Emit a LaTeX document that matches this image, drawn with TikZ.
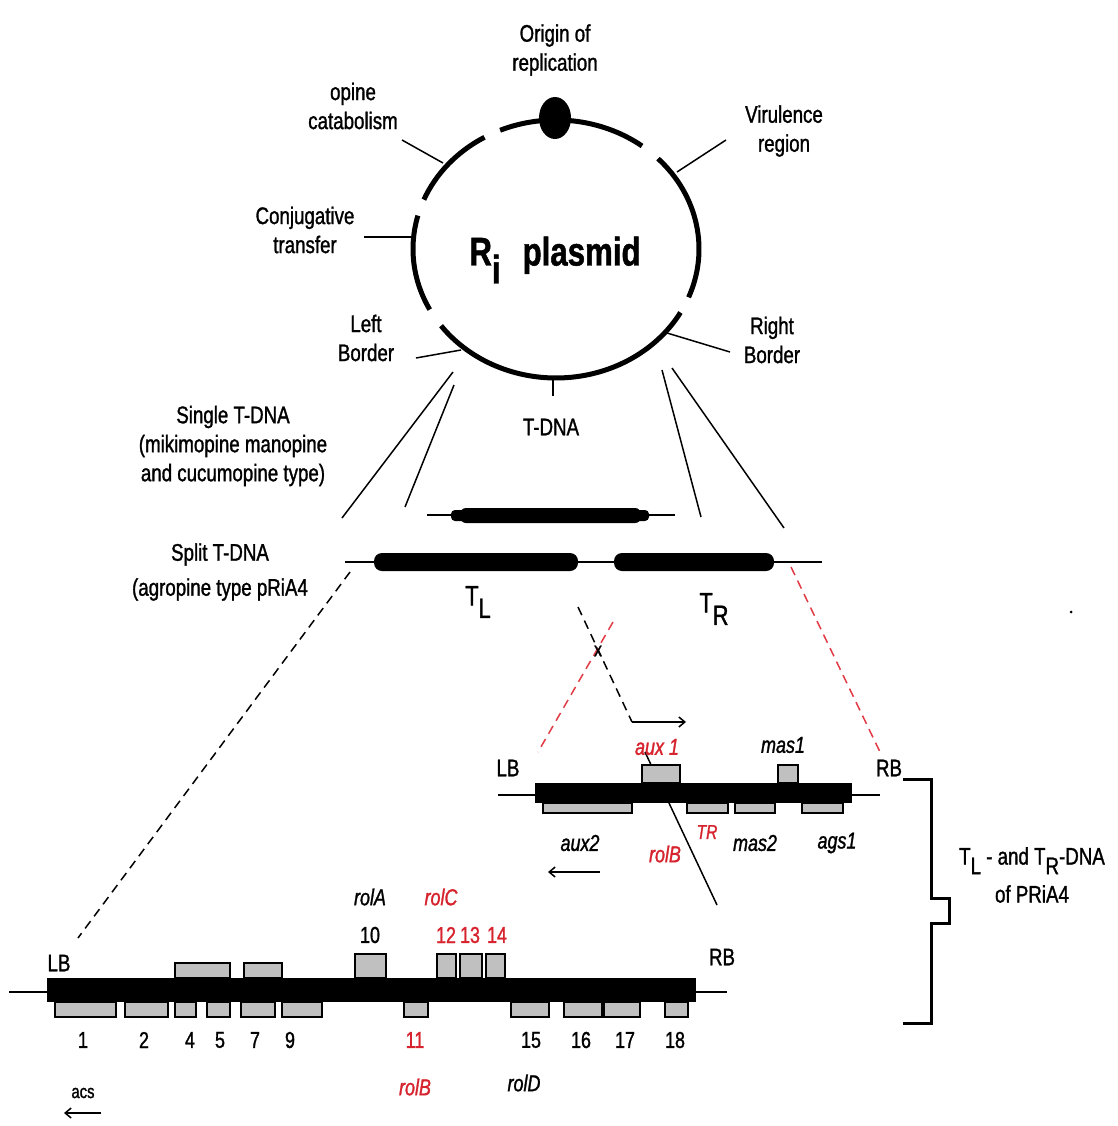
\documentclass[tikz,border=0pt]{standalone}
\usepackage{fontspec}
\setmainfont{Liberation Sans}[FakeStretch=0.78, FakeBold=1.2]
\usetikzlibrary{arrows.meta}
\definecolor{genred}{RGB}{215,35,45}
\definecolor{boxgray}{RGB}{192,192,192}
\definecolor{dashred}{RGB}{225,60,70}
\begin{document}
\begin{tikzpicture}[x=1pt,y=-1pt,
  txt/.style={font=\fontsize{24}{29}\selectfont, align=center, inner sep=0pt},
  gene/.style={font=\fontsize{23}{26}\selectfont\itshape, inner sep=0pt},
  num/.style={font=\fontsize{23}{26}\selectfont, inner sep=0pt},
  redtxt/.style={text=genred},
  ring/.style={line width=5pt},
  conn/.style={line width=1.5pt},
  dna/.style={line width=2pt},
  gbox/.style={draw=black, fill=boxgray, line width=1.5pt},
  bdash/.style={line width=1.5pt, dash pattern=on 9pt off 6pt},
  rdash/.style={line width=1.5pt, dash pattern=on 9pt off 6pt, draw=dashred},
  arr/.style={line width=1.5pt, -{Straight Barb[length=6pt,width=10pt]}},
]
\useasboundingbox[fill=white] (0,0) rectangle (1117,1126);

% ---------- plasmid ----------
\coordinate (pc) at (556,249);
\foreach \a/\b in {-53/-113, 22/-44.5, 29.5/143.5, -165/-208, -120/-157.5}
  \draw[ring] (pc) ++(\a:143 and 129) arc[start angle=\a, end angle=\b, x radius=143, y radius=129];
\fill (555,118) ellipse [x radius=16, y radius=21];

\node[txt] (ori) at (555,50) {Origin of\\replication};
\node[txt] (opi) at (353,106) {opine\\catabolism};
\node[txt] (vir) at (784,131) {Virulence\\region};
\node[txt] (con) at (305,230) {Conjugative\\transfer};
\node[txt] (lb0) at (366,338) {Left\\Border};
\node[txt] (rb0) at (772,340) {Right\\Border};
\node[inner sep=0pt, font=\fontsize{40}{40}\selectfont\bfseries] (pl) at (555,260) {R\raisebox{-0.45em}{i}\,\, plasmid};
\node[txt] (tdna) at (551,427) {T-DNA};

\coordinate (opiA) at (402,140); \coordinate (opiB) at (443,163);
\coordinate (virA) at (726,140); \coordinate (virB) at (677,172);
\coordinate (conA) at (364,237); \coordinate (conB) at (413,237);
\coordinate (lbA) at (416,358); \coordinate (lbB) at (461,350);
\coordinate (rbA) at (730,352); \coordinate (rbB) at (667,333);
\coordinate (tkA) at (553,378); \coordinate (tkB) at (553,396);
\draw[conn] (opiA) -- (opiB);
\draw[conn] (virA) -- (virB);
\draw[conn] (conA) -- (conB);
\draw[conn] (lbA) -- (lbB);
\draw[conn] (rbA) -- (rbB);
\draw[conn] (tkA) -- (tkB);

% lines down to T-DNA maps
\coordinate (l1a) at (453,372); \coordinate (l1b) at (342,518);
\coordinate (l2a) at (454,385); \coordinate (l2b) at (405,507);
\coordinate (r1a) at (662,370); \coordinate (r1b) at (701,517);
\coordinate (r2a) at (672,368); \coordinate (r2b) at (784,528);
\draw[conn] (l1a) -- (l1b);
\draw[conn] (l2a) -- (l2b);
\draw[conn] (r1a) -- (r1b);
\draw[conn] (r2a) -- (r2b);

% ---------- single / split T-DNA ----------
\node[txt] (single) at (233,446) {Single T-DNA\\(mikimopine manopine\\and cucumopine type)};
\node[txt, font=\fontsize{24}{35}\selectfont] (split) at (220,572) {Split T-DNA\\(agropine type pRiA4};

\coordinate (sA) at (427,515); \coordinate (sB) at (675,515);
\draw[dna] (sA) -- (sB);
\fill[rounded corners=4pt] (451,510) rectangle (649,521);
\fill[rounded corners=6pt] (460,508) rectangle (641,523);

\coordinate (spA) at (345,562); \coordinate (spB) at (822,562);
\draw[dna] (spA) -- (spB);
\fill[rounded corners=8pt] (374,553) rectangle (578,571);
\fill[rounded corners=8pt] (614,553) rectangle (774,571);
\node[inner sep=0pt, font=\fontsize{28}{28}\selectfont] (tl) at (478,602) {T\raisebox{-0.45em}{L}};
\node[inner sep=0pt, font=\fontsize{28}{28}\selectfont] (tr) at (714,609) {T\raisebox{-0.45em}{R}};

% ---------- dashed guides ----------
\coordinate (dl1) at (350,572); \coordinate (dl2) at (78,938);
\draw[bdash] (dl1) -- (dl2);
\coordinate (dr1) at (791,567); \coordinate (dr2) at (880,752);
\draw[rdash] (dr1) -- (dr2);
\coordinate (xb1) at (578,607); \coordinate (xb2) at (632,722); \coordinate (xb3) at (686,722);
\draw[bdash] (xb1) -- (xb2);
\draw[arr] (xb2) -- (xb3);
\coordinate (xr1) at (613,622); \coordinate (xr2) at (538,752);
\draw[rdash] (xr1) -- (xr2);
\node[num, font=\fontsize{20}{20}\selectfont] (xx) at (598,651) {x};
\coordinate (dg1) at (645,752); \coordinate (dg2) at (717,905);
\draw[conn] (dg1) -- (dg2);

% ---------- TR-DNA ----------
\coordinate (trA) at (498,795); \coordinate (trB) at (880,795);
\draw[dna] (trA) -- (trB);
\fill (535,783) rectangle (852,803);
\draw[gbox] (642,765) rectangle (680,783);
\draw[gbox] (778,765) rectangle (798,783);
\draw[gbox] (543,803) rectangle (632,813);
\draw[gbox] (687,803) rectangle (728,813);
\draw[gbox] (735,803) rectangle (775,813);
\draw[gbox] (802,803) rectangle (843,813);
\node[txt] (lbR) at (508,768) {LB};
\node[txt] (rbR) at (889,768) {RB};
\node[gene, redtxt] (aux1) at (657,747) {aux 1};
\node[gene] (mas1) at (783,745) {mas1};
\node[gene] (aux2) at (580,843) {aux2};
\node[gene, redtxt] (rolbtr) at (665,854) {rolB};
\node[gene, redtxt, font=\fontsize{20}{20}\selectfont\itshape] (trsup) at (707,832) {TR};
\node[gene] (mas2) at (755,843) {mas2};
\node[gene] (ags1) at (837,843) {ags1};
\coordinate (a2A) at (600,872); \coordinate (a2B) at (548,872);
\draw[arr] (a2A) -- (a2B);

% ---------- TL-DNA ----------
\coordinate (tlA) at (9,992); \coordinate (tlB) at (727,992);
\draw[dna] (tlA) -- (tlB);
\fill (47,978) rectangle (696,1002);
% upper boxes
\draw[gbox] (175,963) rectangle (230,978);
\draw[gbox] (244,963) rectangle (282,978);
\draw[gbox] (355,954) rectangle (386,978);
\draw[gbox] (437,954) rectangle (456,978);
\draw[gbox] (460,954) rectangle (482,978);
\draw[gbox] (486,954) rectangle (505,978);
% lower boxes
\foreach \l/\r in {55/116, 125/168, 175/196, 207/230, 241/275, 282/322, 404/428, 511/549, 564/602, 604/640, 665/688}
  \draw[gbox] (\l,1002) rectangle (\r,1017);

\node[txt] (lbL) at (59,963) {LB};
\node[txt] (rbL) at (722,957) {RB};
\node[num] (n1) at (83,1040) {1};
\node[num] (n2) at (144,1040) {2};
\node[num] (n4) at (190,1040) {4};
\node[num] (n5) at (220,1040) {5};
\node[num] (n7) at (255,1040) {7};
\node[num] (n9) at (290,1040) {9};
\node[num, redtxt] (n11) at (415,1040) {11};
\node[num] (n15) at (531,1040) {15};
\node[num] (n16) at (581,1040) {16};
\node[num] (n17) at (625,1040) {17};
\node[num] (n18) at (675,1040) {18};
\node[num] (n10) at (370,935) {10};
\node[num, redtxt] (n12) at (446,935) {12};
\node[num, redtxt] (n13) at (470,935) {13};
\node[num, redtxt] (n14) at (497,935) {14};
\node[gene] (rolA) at (370,897) {rolA};
\node[gene, redtxt] (rolC) at (441,897) {rolC};
\node[gene, redtxt] (rolB) at (415,1087) {rolB};
\node[gene] (rolD) at (524,1083) {rolD};
\node[txt, font=\fontsize{19}{19}\selectfont] (acs) at (83,1093) {acs};
\coordinate (acA) at (101,1113); \coordinate (acB) at (64,1113);
\draw[arr] (acA) -- (acB);

% ---------- bracket ----------
\draw[line width=3pt] (903,779) -- (931,779) -- (931,898) -- (949,898) -- (949,923) -- (931,923) -- (931,1023) -- (903,1023);
\node[txt, font=\fontsize{24}{38}\selectfont] (brk) at (1032,875) {T\raisebox{-0.4em}{L} - and T\raisebox{-0.4em}{R}-DNA\\of PRiA4};

\fill (1071,612) circle (1.5);
\end{tikzpicture}
\end{document}
